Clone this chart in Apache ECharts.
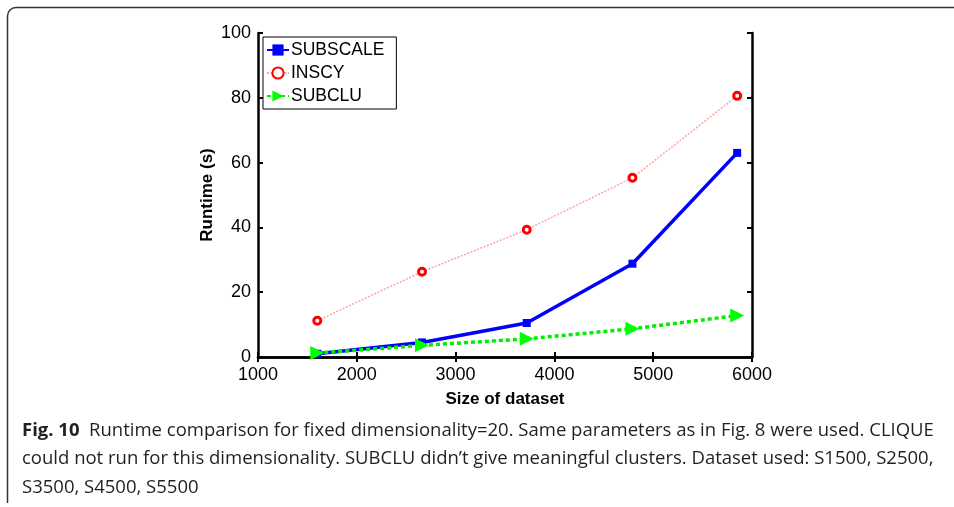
<!DOCTYPE html>
<html>
<head>
<meta charset="utf-8">
<script src="https://cdn.jsdelivr.net/npm/echarts@6/dist/echarts.min.js"></script>
<style>
  html, body { margin: 0; padding: 0; background: #fff; }
  #chart { width: 954px; height: 507px; }
</style>
</head>
<body>
<div id="chart"></div>
<script>
// dataset sizes (x) and runtimes (s)
var sizes = [1600, 2660, 3720, 4790, 5850]
var subscale = [1.0, 4.5, 10.5, 28.8, 63.0]
var inscy = [11.2, 26.3, 39.3, 55.3, 80.6]
var subclu = [1.2, 3.6, 5.6, 8.7, 12.8]
var xTicks = [1000, 2000, 3000, 4000, 5000, 6000]
var yTicks = [0, 20, 40, 60, 80, 100]

var captionLines = [
  "{b|Fig. 10}  Runtime comparison for fixed dimensionality=20. Same parameters as in Fig. 8 were used. CLIQUE",
  "could not run for this dimensionality. SUBCLU didn\u2019t give meaningful clusters. Dataset used: S1500, S2500,",
  "S3500, S4500, S5500"
]

function pairs(ys) {
  return ys.map(function (v, i) { return [sizes[i], v] })
}

var myChart = echarts.init(document.getElementById("chart"))

var axisFont = { fontFamily: "Liberation Sans, Arial", fontSize: 18, color: "#000" }
var boxLine = { show: true, lineStyle: { color: "#000", width: 2.5 } }
var boxTick = { show: true, inside: true, length: 5, lineStyle: { color: "#000", width: 2 } }

var option = {
  animation: false,
  backgroundColor: "#fff",
  grid: { left: 258, right: 202, top: 33, bottom: 150 },
  legend: {
    left: 263, top: 37,
    orient: "vertical",
    backgroundColor: "#fff",
    borderColor: "#000",
    borderWidth: 1,
    borderRadius: 0,
    padding: [4, 12, 4, 3],
    itemGap: 5,
    itemWidth: 22,
    itemHeight: 14,
    textStyle: { fontFamily: "Liberation Sans, Arial", fontSize: 17.5, color: "#000", padding: [0, 0, 0, -3] },
    data: ["SUBSCALE", "INSCY", "SUBCLU"]
  },
  xAxis: [
    {
      type: "value", min: 1000, max: 6000, interval: 1000,
      name: "Size of dataset", nameLocation: "middle", nameGap: 34,
      nameTextStyle: { fontFamily: "Liberation Sans, Arial", fontSize: 17, fontWeight: "bold", color: "#000" },
      axisLine: boxLine,
      axisTick: boxTick,
      axisLabel: Object.assign({ margin: 9, formatter: function (v) { return xTicks.indexOf(v) >= 0 ? String(v) : "" } }, axisFont),
      splitLine: { show: false }
    },
    {
      type: "value", min: 1000, max: 6000, interval: 1000, position: "top",
      axisLine: boxLine,
      axisTick: boxTick,
      axisLabel: { show: false },
      splitLine: { show: false }
    }
  ],
  yAxis: [
    {
      type: "value", min: 0, max: 100, interval: 20,
      name: "Runtime (s)", nameLocation: "middle", nameGap: 42, nameMoveOverlap: false,
      nameTextStyle: { fontFamily: "Liberation Sans, Arial", fontSize: 17, fontWeight: "bold", color: "#000" },
      axisLine: boxLine,
      axisTick: boxTick,
      axisLabel: Object.assign({ margin: 7, formatter: function (v) { return yTicks.indexOf(v) >= 0 ? String(v) : "" } }, axisFont),
      splitLine: { show: false }
    },
    {
      type: "value", min: 0, max: 100, interval: 20, position: "right",
      axisLine: boxLine,
      axisTick: boxTick,
      axisLabel: { show: false },
      splitLine: { show: false }
    }
  ],
  series: [
    {
      name: "SUBSCALE",
      type: "line",
      data: pairs(subscale),
      symbol: "rect",
      symbolSize: 8,
      itemStyle: { color: "#0000ff" },
      lineStyle: { color: "#0000ff", width: 3.5 }
    },
    {
      name: "INSCY",
      type: "line",
      data: pairs(inscy),
      symbol: "circle",
      symbolSize: 7,
      itemStyle: { color: "#fff", borderColor: "#ff0000", borderWidth: 3 },
      lineStyle: { color: "rgba(255,90,90,0.55)", width: 1.5, type: [2, 1.5] }
    },
    {
      name: "SUBCLU",
      type: "line",
      data: pairs(subclu),
      symbol: "triangle",
      symbolRotate: -90,
      symbolSize: 14,
      itemStyle: { color: "#00ff00" },
      lineStyle: { color: "#00ee00", width: 3.5, type: [4, 3] }
    }
  ],
  graphic: [
    // figure frame: left edge, rounded top-left corner, top edge
    {
      type: "line",
      shape: { x1: 7.5, y1: 16, x2: 7.5, y2: 503 },
      style: { stroke: "#333", lineWidth: 1.5 }
    },
    {
      type: "line",
      shape: { x1: 16, y1: 7.5, x2: 954, y2: 7.5 },
      style: { stroke: "#333", lineWidth: 1.5 }
    },
    {
      type: "arc",
      shape: { cx: 16, cy: 16, r: 8.5, startAngle: Math.PI, endAngle: Math.PI * 1.5 },
      style: { stroke: "#333", lineWidth: 1.5, fill: "none" }
    },
    {
      type: "text",
      left: 22, top: 416,
      style: {
        text: captionLines.join("\n"),
        fontFamily: "Open Sans, Noto Sans",
        fontSize: 18.5,
        lineHeight: 28.5,
        fill: "#231f20",
        rich: {
          b: { fontFamily: "Open Sans, Noto Sans", fontWeight: "bold", fontSize: 18.5, fill: "#231f20", lineHeight: 28.5 }
        }
      }
    }
  ]
}

myChart.setOption(option)
</script>
</body>
</html>
